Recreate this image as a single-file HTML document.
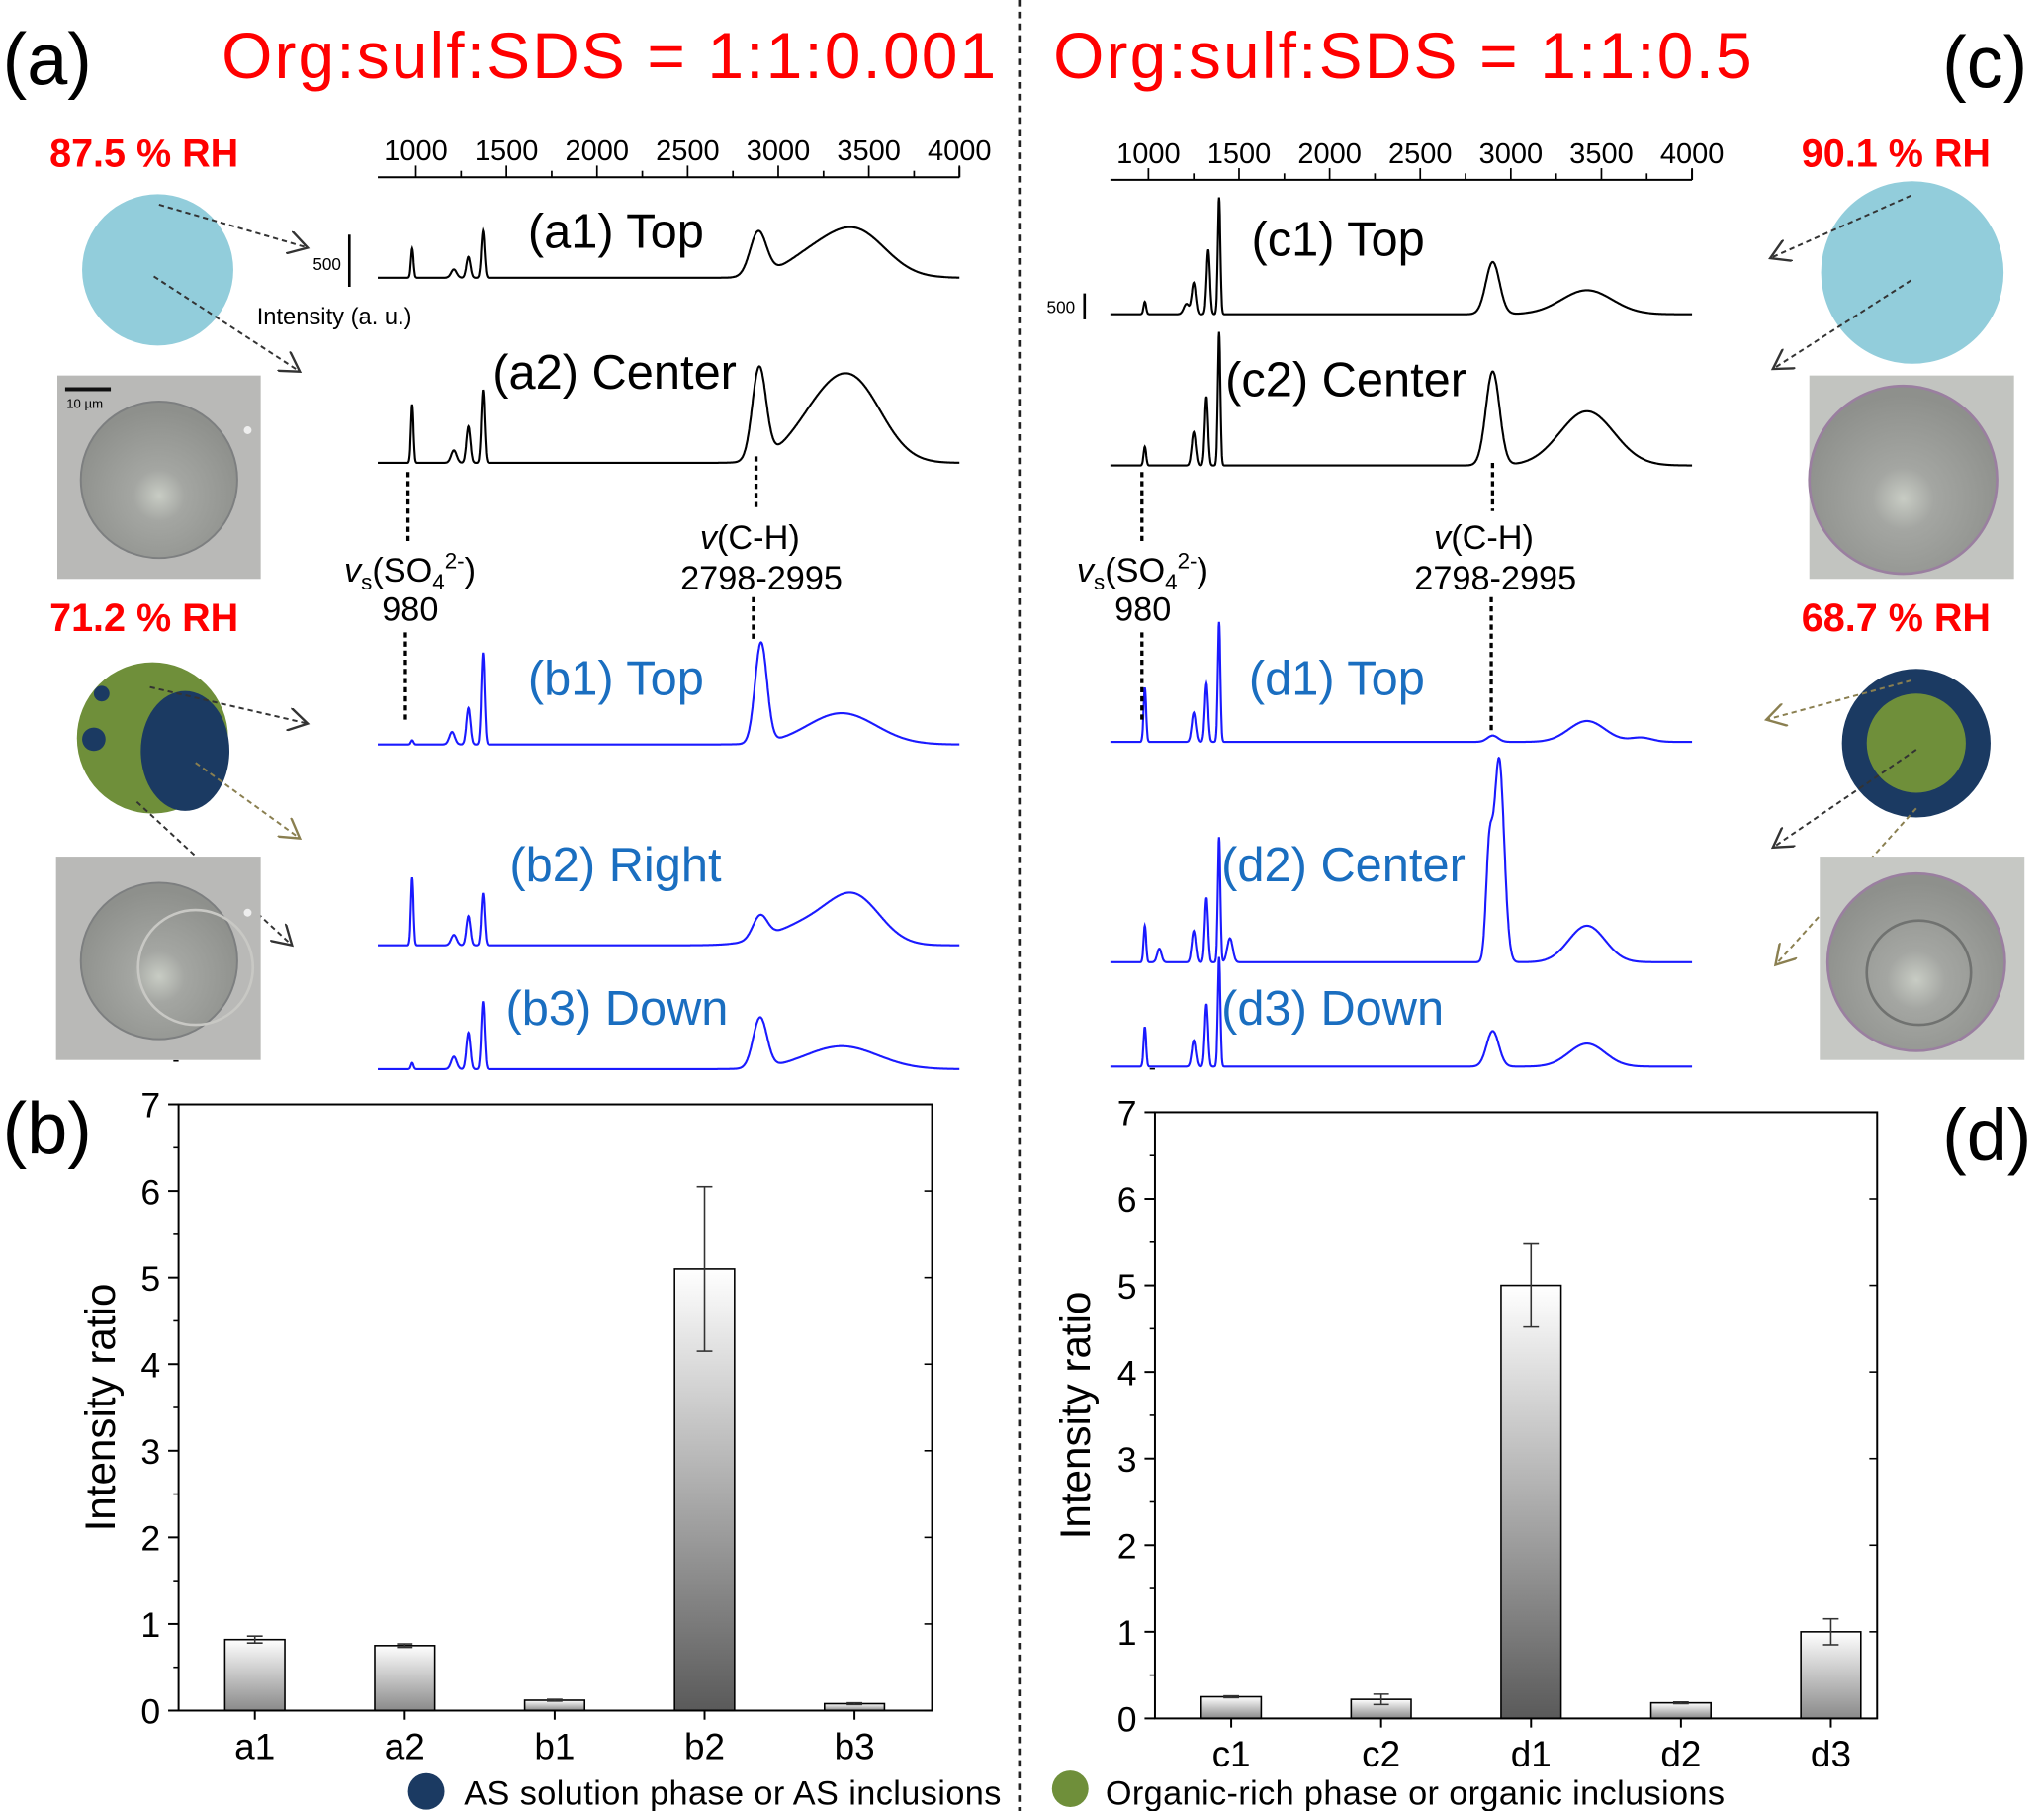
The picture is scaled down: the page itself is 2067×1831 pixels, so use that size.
<!DOCTYPE html>
<html><head><meta charset="utf-8"><style>
html,body{margin:0;padding:0;background:#fff;}
svg{display:block;font-family:"Liberation Sans",Arial,sans-serif;}
</style></head><body>
<svg id="fig" width="2067" height="1831" viewBox="0 0 1568 1389" preserveAspectRatio="none" xmlns="http://www.w3.org/2000/svg">
<defs>
<linearGradient id="bg" x1="0" y1="0" x2="0" y2="1"><stop offset="0" stop-color="#ffffff"/><stop offset="1" stop-color="#5a5a5a"/></linearGradient>
<linearGradient id="bgs" x1="0" y1="0" x2="0" y2="1"><stop offset="0" stop-color="#ffffff"/><stop offset="1" stop-color="#8a8a8a"/></linearGradient>
<radialGradient id="drop" cx="0.5" cy="0.6" r="0.55"><stop offset="0" stop-color="#c8ccc4"/><stop offset="0.3" stop-color="#a4a6a2"/><stop offset="1" stop-color="#8e908c"/></radialGradient>
<marker id="arr" markerWidth="12" markerHeight="12" refX="10" refY="6" orient="auto"><path d="M0,0 L10,6 L0,12" fill="none" stroke="#333" stroke-width="1.2"/></marker>
<marker id="arr2" markerWidth="12" markerHeight="12" refX="10" refY="6" orient="auto"><path d="M0,0 L10,6 L0,12" fill="none" stroke="#8a7f50" stroke-width="1.2"/></marker>
</defs>

<line x1="782" y1="0" x2="782" y2="1389" stroke="#222" stroke-width="2" stroke-dasharray="5,4"/>

<text x="2" y="65" font-size="56">(a)</text>
<text x="1490" y="67" font-size="56">(c)</text>
<text x="2" y="885" font-size="56">(b)</text>
<text x="1490" y="890" font-size="56">(d)</text>
<text x="170" y="60" font-size="50" fill="#ff0000" textLength="594">Org:sulf:SDS = 1:1:0.001</text>
<text x="808" y="60" font-size="50" fill="#ff0000" textLength="536">Org:sulf:SDS = 1:1:0.5</text>

<g font-weight="bold" fill="#ff0000" font-size="30">
<text x="38" y="128">87.5 % RH</text>
<text x="38" y="484">71.2 % RH</text>
<text x="1382" y="128">90.1 % RH</text>
<text x="1382" y="484">68.7 % RH</text>
</g>

<circle cx="121" cy="207" r="58" fill="#92cddb"/>
<g stroke="#333" stroke-width="1.5" stroke-dasharray="4,3" fill="none">
<line x1="122" y1="157" x2="236" y2="190" marker-end="url(#arr)"/>
<line x1="118" y1="212" x2="230" y2="285" marker-end="url(#arr)"/>
</g>
<rect x="44" y="288" width="156" height="156" fill="#b9b9b7"/>
<circle cx="122" cy="368" r="60" fill="url(#drop)" stroke="#7d7f80" stroke-width="1.5"/>
<rect x="50" y="297" width="35" height="3" fill="#111"/>
<text x="51" y="313" font-size="10">10 µm</text>
<circle cx="190" cy="330" r="3" fill="#eee"/>

<circle cx="117" cy="566" r="58" fill="#6f8f3a"/>
<ellipse cx="142" cy="576" rx="34" ry="46" fill="#1b3a62"/>
<circle cx="78" cy="532" r="6" fill="#1b3a62"/><circle cx="72" cy="567" r="9" fill="#1b3a62"/>
<g stroke-width="1.5" stroke-dasharray="4,3" fill="none">
<line x1="115" y1="527" x2="236" y2="555" stroke="#333" marker-end="url(#arr)"/>
<line x1="150" y1="585" x2="230" y2="643" stroke="#8a7f50" marker-end="url(#arr2)"/>
<line x1="105" y1="615" x2="224" y2="725" stroke="#333" marker-end="url(#arr)"/>
</g>
<rect x="43" y="657" width="157" height="156" fill="#b9b9b7"/>
<circle cx="122" cy="737" r="60" fill="url(#drop)" stroke="#7d7f80" stroke-width="1.5"/>
<circle cx="150" cy="742" r="44" fill="none" stroke="#c8c8c4" stroke-width="2"/>
<circle cx="190" cy="700" r="3" fill="#eee"/>

<circle cx="1467" cy="209" r="70" fill="#92cddb"/>
<g stroke="#333" stroke-width="1.5" stroke-dasharray="4,3" fill="none">
<line x1="1466" y1="150" x2="1358" y2="198" marker-end="url(#arr)"/>
<line x1="1466" y1="215" x2="1360" y2="283" marker-end="url(#arr)"/>
</g>
<rect x="1388" y="288" width="157" height="156" fill="#c2c4c0"/>
<circle cx="1460" cy="368" r="72" fill="url(#drop)" stroke="#9a7fa0" stroke-width="2"/>
<circle cx="1470" cy="570" r="57" fill="#1b3a62"/>
<circle cx="1470" cy="570" r="38" fill="#6f8f3a"/>
<g stroke-width="1.5" stroke-dasharray="4,3" fill="none">
<line x1="1466" y1="522" x2="1355" y2="552" stroke="#8a7f50" marker-end="url(#arr2)"/>
<line x1="1470" y1="575" x2="1360" y2="650" stroke="#333" marker-end="url(#arr)"/>
<line x1="1470" y1="620" x2="1362" y2="740" stroke="#8a7f50" marker-end="url(#arr2)"/>
</g>
<rect x="1396" y="657" width="157" height="156" fill="#c6c8c4"/>
<circle cx="1470" cy="738" r="68" fill="url(#drop)" stroke="#9a7fa0" stroke-width="2"/>
<circle cx="1472" cy="746" r="40" fill="none" stroke="#707270" stroke-width="2"/>

<g id="spectra"></g>
<g id="bars"></g>

<g font-size="13"><text x="240" y="207">500</text><text x="803" y="240">500</text></g>
<line x1="268" y1="180" x2="268" y2="220" stroke="#000" stroke-width="2"/>
<line x1="832" y1="225" x2="832" y2="245" stroke="#000" stroke-width="2"/>
<text x="197" y="249" font-size="18">Intensity (a. u.)</text>
<g stroke="#000" stroke-width="2.5" stroke-dasharray="4,3">
<line x1="313" y1="362" x2="313" y2="415"/><line x1="311" y1="485" x2="311" y2="552"/>
<line x1="580" y1="350" x2="580" y2="392"/><line x1="578" y1="458" x2="578" y2="492"/>
<line x1="876" y1="362" x2="876" y2="415"/><line x1="876" y1="485" x2="876" y2="552"/>
<line x1="1145" y1="355" x2="1145" y2="392"/><line x1="1144" y1="458" x2="1144" y2="562"/>
</g>
<g font-size="26">
<text x="264" y="446"><tspan font-style="italic">v</tspan><tspan font-size="17" dy="6">s</tspan><tspan dy="-6">(SO</tspan><tspan font-size="17" dy="6">4</tspan><tspan font-size="17" dy="-16">2-</tspan><tspan dy="10">)</tspan></text>
<text x="293" y="476">980</text>
<text x="537" y="421"><tspan font-style="italic">v</tspan>(C-H)</text>
<text x="522" y="452">2798-2995</text>
<text x="826" y="446"><tspan font-style="italic">v</tspan><tspan font-size="17" dy="6">s</tspan><tspan dy="-6">(SO</tspan><tspan font-size="17" dy="6">4</tspan><tspan font-size="17" dy="-16">2-</tspan><tspan dy="10">)</tspan></text>
<text x="855" y="476">980</text>
<text x="1100" y="421"><tspan font-style="italic">v</tspan>(C-H)</text>
<text x="1085" y="452">2798-2995</text>
</g>

<circle cx="327" cy="1374" r="14" fill="#1b3a62"/>
<text x="356" y="1384" font-size="26" textLength="412">AS solution phase or AS inclusions</text>
<circle cx="821" cy="1372" r="14" fill="#6f8f3a"/>
<text x="848" y="1384" font-size="26" textLength="475">Organic-rich phase or organic inclusions</text>
</svg>
<script>
const wavenumberTicks = [1000,1500,2000,2500,3000,3500,4000];
const peaksA1 = [[980,280,7],[1210,80,15],[1290,200,11],[1370,450,9],[2890,420,45],[3150,140,140],[3420,460,170]];
const peaksA2 = [[980,560,7],[1210,120,15],[1290,350,11],[1370,700,9],[2895,880,38],[3200,330,150],[3420,720,160]];
const peaksB1 = [[980,40,7],[1200,120,15],[1290,350,11],[1370,880,9],[2905,960,33],[3350,300,190]];
const peaksB2 = [[980,650,7],[1210,100,15],[1290,280,11],[1370,500,9],[2900,220,40],[3200,220,200],[3430,380,140]];
const peaksB3 = [[980,60,7],[1210,120,15],[1290,350,11],[1370,650,9],[2900,480,38],[3350,220,200]];
const peaksC1 = [[980,120,7],[1210,100,15],[1250,300,11],[1330,620,9],[1390,1120,7],[2900,500,38],[3420,230,140]];
const peaksC2 = [[980,180,7],[1250,320,11],[1320,660,9],[1390,1280,7],[2900,900,38],[3420,520,150]];
const peaksD1 = [[980,520,7],[1250,280,11],[1320,560,9],[1390,1150,7],[2900,60,30],[3420,200,100],[3720,40,60]];
const peaksD2 = [[980,350,7],[1060,130,12],[1250,300,11],[1320,620,9],[1390,1200,7],[1450,230,15],[2880,950,18],[2935,1950,28],[3420,350,100]];
const peaksD3 = [[980,380,7],[1250,250,11],[1320,600,9],[1390,1050,7],[2900,340,34],[3420,220,100]];
const spectrumNames = ['a1','a2','b1','b2','b3','c1','c2','d1','d2','d3'];
const spectrumPeaks = [peaksA1,peaksA2,peaksB1,peaksB2,peaksB3,peaksC1,peaksC2,peaksD1,peaksD2,peaksD3];
const spectrumBaselines = [213,355,571,725,820,241,357,569,738,818];
const spectrumSide = [0,0,0,0,0,1,1,1,1,1];
const spectrumBlue = [false,false,true,true,true,false,false,true,true,true];
const spectrumLabels = ['(a1) Top','(a2) Center','(b1) Top','(b2) Right','(b3) Down','(c1) Top','(c2) Center','(d1) Top','(d2) Center','(d3) Down'];
const labelPos = [[405,190],[378,298],[405,533],[391,676],[388,786],[960,196],[940,304],[958,533],[937,676],[937,786]];

const NS='http://www.w3.org/2000/svg';
function mk(tag,attrs,parent){const e=document.createElementNS(NS,tag);for(const k in attrs)e.setAttribute(k,attrs[k]);parent.appendChild(e);return e;}
const axisX0=[319,881], axisY=[136,138], pxPerCm=417/3000, pxPerUnit=0.08;
function xScale(side,w){return axisX0[side]+(w-1000)*pxPerCm;}
const sg=document.getElementById('spectra');
for(let s=0;s<2;s++){
  const ax=mk('g',{},sg);
  
  
  const y=axisY[s];
  mk('line',{x1:xScale(s,790),y1:y,x2:xScale(s,4000),y2:y,stroke:'#000','stroke-width':1.5},ax);
  mk('line',{x1:xScale(s,4000),y1:y,x2:xScale(s,4000),y2:y-8,stroke:'#000','stroke-width':1.5},ax);
  for(let w=1000;w<=4000;w+=250){
    const big=w%500===0;
    mk('line',{x1:xScale(s,w),y1:y,x2:xScale(s,w),y2:y-(big?9:5),stroke:'#000','stroke-width':1.3},ax);
  }
  wavenumberTicks.forEach(w=>{
    const t=mk('text',{x:xScale(s,w),y:y-13,'font-size':22,'text-anchor':'middle'},ax);
    t.textContent=w;
  });
}
spectrumPeaks.forEach((pk,i)=>{
  const s=spectrumSide[i], b=spectrumBaselines[i];
  let d='';
  for(let w=790;w<=4000;w+=2){
    let v=0; pk.forEach(p=>{const z=(w-p[0])/p[2]; v+=p[1]*Math.exp(-0.5*z*z);});
    d+=(w===790?'M':'L')+xScale(s,w).toFixed(1)+','+(b-v*pxPerUnit).toFixed(1);
  }
  const p=mk('path',{d:d,fill:'none',stroke:spectrumBlue[i]?'#1a1aff':'#000','stroke-width':1.6},sg);
  
  
  const t=mk('text',{x:labelPos[i][0],y:labelPos[i][1],'font-size':37,fill:spectrumBlue[i]?'#1a6ec0':'#000'},sg);
  t.textContent=spectrumLabels[i];
  
  
});

const catsB = ['a1','a2','b1','b2','b3'];
const valsB = [0.82,0.75,0.12,5.1,0.08];
const errsB = [0.04,0.02,0.01,0.95,0.01];
const catsD = ['c1','c2','d1','d2','d3'];
const valsD = [0.25,0.22,5.0,0.18,1.0];
const errsD = [0.01,0.06,0.48,0.01,0.15];
const yTicks = [0,1,2,3,4,5,6,7];
const bg=document.getElementById('bars');
function barChart(name,cats,vals,errs,L,R,T,B,titleX){
  const g=mk('g',{},bg);
  
  
  const yS=v=>B-(v/7)*(B-T);
  const step=115, off=58.5, bw=46;
  cats.forEach((c,i)=>{
    const cx=L+off+step*i, v=vals[i], e=errs[i];
    const r=mk('rect',{x:cx-bw/2,y:yS(v),width:bw,height:B-yS(v),fill:v>2?'url(#bg)':'url(#bgs)',stroke:'#000','stroke-width':1.2},g);
    
    
    mk('line',{x1:cx,y1:yS(v+e),x2:cx,y2:yS(v-e),stroke:'#333','stroke-width':1.2},g);
    mk('line',{x1:cx-6,y1:yS(v+e),x2:cx+6,y2:yS(v+e),stroke:'#333','stroke-width':1.2},g);
    mk('line',{x1:cx-6,y1:yS(v-e),x2:cx+6,y2:yS(v-e),stroke:'#333','stroke-width':1.2},g);
    mk('line',{x1:cx,y1:B,x2:cx,y2:B+7,stroke:'#000','stroke-width':1.5},g);
    const t=mk('text',{x:cx,y:B+37,'font-size':28,'text-anchor':'middle'},g);
    t.textContent=c;
    
    
  });
  mk('rect',{x:L,y:T,width:R-L,height:B-T,fill:'none',stroke:'#000','stroke-width':1.5},g);
  yTicks.forEach(v=>{
    mk('line',{x1:L-8,y1:yS(v),x2:L,y2:yS(v),stroke:'#000','stroke-width':1.5},g);
    mk('line',{x1:L-4,y1:yS(v+0.5),x2:L,y2:yS(v+0.5),stroke:'#000','stroke-width':1.2},g);
    mk('line',{x1:R,y1:yS(v),x2:R-6,y2:yS(v),stroke:'#000','stroke-width':1.2},g);
    const t=mk('text',{x:L-14,y:yS(v)+10,'font-size':27,'text-anchor':'end'},g);
    t.textContent=v;
  });
  const tt=mk('text',{x:titleX,y:(T+B)/2,'font-size':32,'text-anchor':'middle',transform:'rotate(-90 '+titleX+' '+(T+B)/2+')'},g);
  tt.textContent='Intensity ratio';
  
  
}
barChart('bar-chart-b',catsB,valsB,errsB,137,715,847,1312,88);
barChart('bar-chart-d',catsD,valsD,errsD,886,1440,853,1318,836);
</script>
</body></html>
